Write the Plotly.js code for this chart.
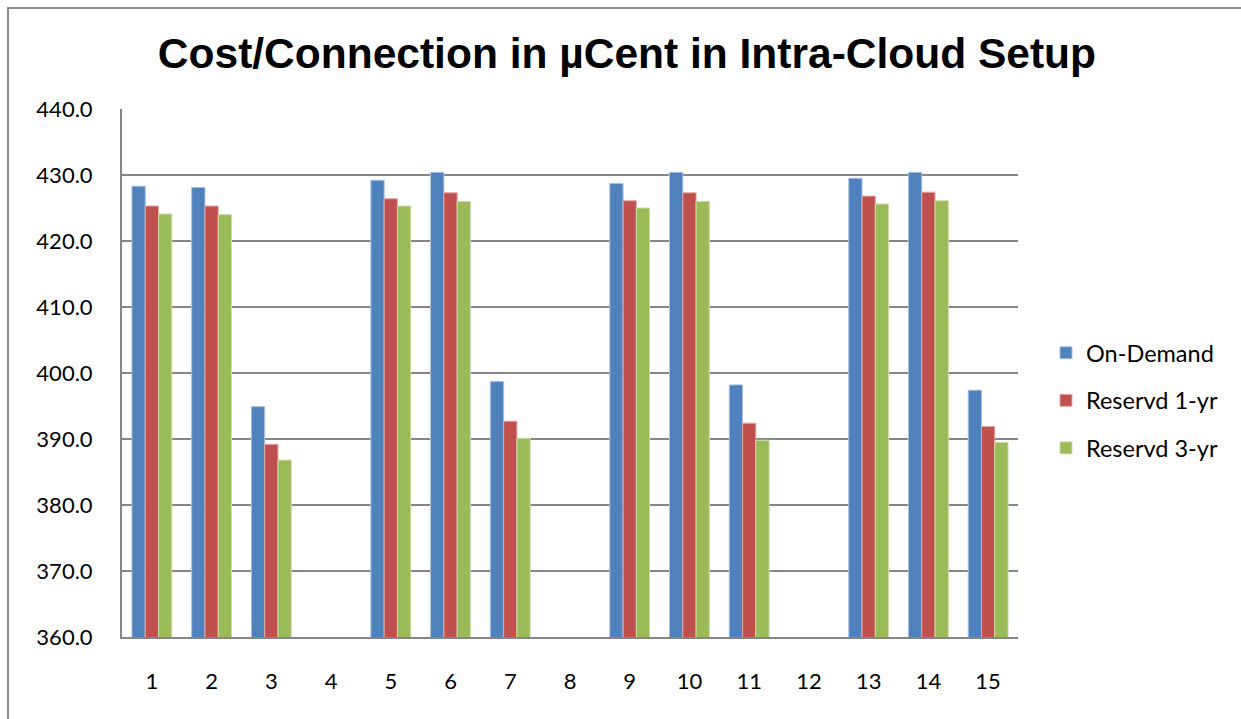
<!DOCTYPE html>
<html>
<head>
<meta charset="utf-8">
<script src="https://cdn.plot.ly/plotly-3.0.1.min.js"></script>
<style>
  html, body { margin: 0; padding: 0; background: #fff; overflow: hidden; }
  #chart { width: 1241px; height: 719px; }
  #frame { position: absolute; left: 7px; top: 7px; width: 1300px; height: 800px;
           border: 2px solid #8c8c8c; pointer-events: none; box-sizing: border-box; }
</style>
</head>
<body>
<div id="chart"></div>
<div id="frame"></div>
<script>
const categories = ["1","2","3","4","5","6","7","8","9","10","11","12","13","14","15"];
const onDemand  = [428.3, 428.1, 394.9, null, 429.2, 430.4, 398.7, null, 428.7, 430.4, 398.2, null, 429.5, 430.4, 397.4];
const reserved1 = [425.3, 425.3, 389.2, null, 426.4, 427.3, 392.7, null, 426.1, 427.3, 392.4, null, 426.8, 427.4, 391.9];
const reserved3 = [424.1, 424.0, 386.8, null, 425.3, 426.0, 390.1, null, 425.0, 426.0, 389.8, null, 425.6, 426.1, 389.5];
const seriesNames = ["On-Demand", "Reservd 1-yr", "Reservd 3-yr"];
const yTicks = [360, 370, 380, 390, 400, 410, 420, 430, 440];
const yTickText = ["360.0","370.0","380.0","390.0","400.0","410.0","420.0","430.0","440.0"];

const colors = ["#4F81BD", "#C0504D", "#9BBB59"];
const lines = ["#a9c0df", "#e3a8a6", "#cddcab"];
const values = [onDemand, reserved1, reserved3];

const traces = values.map((v, i) => ({
  type: "bar",
  name: seriesNames[i],
  x: categories,
  y: v,
  marker: { color: colors[i], line: { color: lines[i], width: 1 } },
  legendgroup: "g" + i
}));

const layout = {
  width: 1241,
  height: 719,
  paper_bgcolor: "#ffffff",
  plot_bgcolor: "#ffffff",
  margin: { l: 122, r: 223, t: 109, b: 82 },
  title: {
    text: "<b>Cost/Connection in µCent in Intra-Cloud Setup</b>",
    font: { family: "Liberation Sans, Arial, sans-serif", size: 42.5, color: "#000" },
    xref: "container", x: 0.5052, xanchor: "center",
    yref: "container", y: 0.926, yanchor: "middle"
  },
  barmode: "group",
  bargap: 0.333,
  bargroupgap: 0,
  xaxis: {
    type: "category",
    tickvals: categories,
    ticktext: categories,
    tickfont: { family: "Lato, Carlito, sans-serif", size: 22, color: "#000" },
    showgrid: false,
    showline: true,
    linecolor: "#868686",
    linewidth: 2,
    ticks: "",
    ticklabelstandoff: 24,
    fixedrange: true
  },
  yaxis: {
    range: [360, 440],
    tickvals: yTicks,
    ticktext: yTickText,
    tickfont: { family: "Lato, Carlito, sans-serif", size: 22, color: "#000" },
    showgrid: true,
    gridcolor: "#868686",
    gridwidth: 2,
    showline: true,
    linecolor: "#868686",
    linewidth: 2,
    zeroline: false,
    ticks: "",
    ticklabelstandoff: 23,
    fixedrange: true
  },
  legend: {
    xref: "container", yref: "container",
    x: 1046 / 1241, xanchor: "left",
    y: 1 - 331 / 719, yanchor: "top",
    font: { family: "Lato, Carlito, sans-serif", size: 23.5, color: "#000" },
    traceorder: "grouped",
    tracegroupgap: 14,
    itemwidth: 30,
    bgcolor: "rgba(0,0,0,0)"
  },
  showlegend: true
};

Plotly.newPlot("chart", traces, layout, { displayModeBar: false, staticPlot: true });
</script>
</body>
</html>
